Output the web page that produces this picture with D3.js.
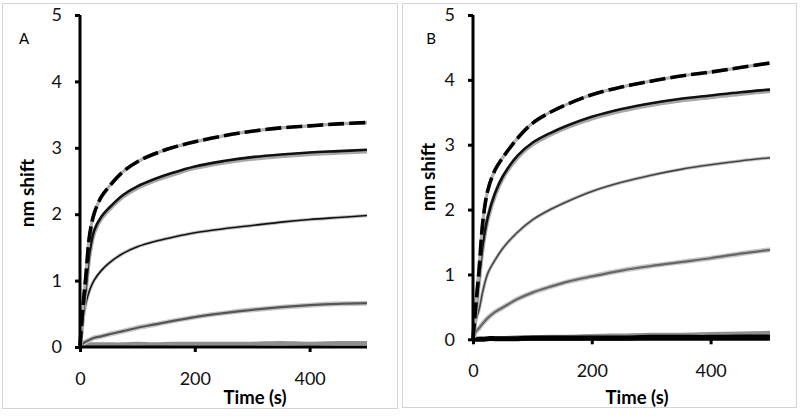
<!DOCTYPE html>
<html><head><meta charset="utf-8">
<script src="https://cdn.jsdelivr.net/npm/d3@7"></script>
<style>
html,body{margin:0;padding:0;background:#fff;}
svg{display:block;font-family:Lato,"Open Sans",sans-serif;}
</style></head>
<body><svg id="c" width="800" height="419"></svg>
<script>
// ---- data ----
const timeS = [0, 5, 10, 17, 25, 37, 50, 75, 100, 130, 160, 200, 250, 300, 350, 400, 450, 500];
const xTicks = [0, 200, 400];
const yTicks = [0, 1, 2, 3, 4, 5];

const aDashed = [0, 0.60, 1.05, 1.70, 2.02, 2.26, 2.41, 2.64, 2.79, 2.91, 3.00, 3.09, 3.18, 3.25, 3.30, 3.33, 3.36, 3.38];
const aSolid  = [0, 0.50, 0.90, 1.45, 1.76, 1.96, 2.09, 2.29, 2.42, 2.53, 2.62, 2.72, 2.80, 2.86, 2.90, 2.93, 2.95, 2.97];
const aThin   = [0, 0.40, 0.65, 0.86, 1.01, 1.15, 1.26, 1.41, 1.51, 1.59, 1.65, 1.72, 1.78, 1.83, 1.88, 1.92, 1.95, 1.98];
const aGray   = [0, 0.05, 0.08, 0.11, 0.14, 0.16, 0.19, 0.24, 0.29, 0.34, 0.39, 0.45, 0.51, 0.56, 0.60, 0.63, 0.65, 0.66];
const aLight  = [0, 0.04, 0.04, 0.04, 0.04, 0.04, 0.04, 0.04, 0.05, 0.04, 0.05, 0.05, 0.05, 0.05, 0.06, 0.05, 0.06, 0.06];
const aBlack  = [0, 0, 0, 0, 0, 0, 0, 0, 0, 0, 0, 0, 0, 0, 0, 0, 0, 0];

const bDashed = [0, 0.55, 1.05, 1.85, 2.30, 2.61, 2.80, 3.10, 3.33, 3.50, 3.63, 3.77, 3.89, 3.98, 4.06, 4.12, 4.19, 4.26];
const bSolid  = [0, 0.50, 0.95, 1.50, 1.89, 2.25, 2.51, 2.83, 3.03, 3.18, 3.30, 3.43, 3.55, 3.64, 3.71, 3.76, 3.81, 3.85];
const bThin   = [0, 0.30, 0.45, 0.76, 1.02, 1.22, 1.40, 1.65, 1.84, 2.00, 2.13, 2.28, 2.42, 2.53, 2.62, 2.69, 2.75, 2.80];
const bGray   = [0, 0.12, 0.17, 0.25, 0.33, 0.42, 0.49, 0.62, 0.72, 0.81, 0.89, 0.97, 1.06, 1.13, 1.19, 1.25, 1.32, 1.38];
const bLight  = [0, 0.00, 0.01, 0.01, 0.01, 0.02, 0.02, 0.03, 0.03, 0.04, 0.04, 0.05, 0.06, 0.07, 0.07, 0.08, 0.09, 0.10];
const bBlack  = [0, 0, 0, 0, 0.01, 0.01, 0.01, 0.01, 0.02, 0.02, 0.02, 0.02, 0.02, 0.03, 0.03, 0.03, 0.035, 0.035];

const svg = d3.select("#c");

function panel(cfg) {
  const g = svg.append("g");
  g.append("rect").attr("x", cfg.box[0]).attr("y", cfg.box[1])
    .attr("width", cfg.box[2]).attr("height", cfg.box[3])
    .attr("fill", "none").attr("stroke", "#d4d4d4").attr("stroke-width", 1);

  const x = d3.scaleLinear().domain([0, 500]).range(cfg.xr);
  const y = d3.scaleLinear().domain([0, 5]).range(cfg.yr);
  const line = d3.line().x((d, i) => x(timeS[i])).y(d => y(d)).curve(d3.curveCatmullRom.alpha(0.5));
  const path = (data, col, w, extra) => {
    const p = g.append("path").attr("d", line(data)).attr("fill", "none")
      .attr("stroke", col).attr("stroke-width", w).attr("stroke-linejoin", "round");
    if (extra) extra(p);
    return p;
  };

  const s = cfg.series;
  // light gray baseline
  path(s.light, "#8f8f8f", 4);
  // black baseline
  path(s.black, "#000", cfg.blackW);
  // gray curve
  path(s.gray, "#c8c8c8", 5);
  path(s.gray, cfg.grayCol, 2.2);
  // thin curve
  path(s.thin, "#c4c4c4", 3.5);
  path(s.thin, cfg.thinCol, 1.6);
  // solid thick curve with shadow
  path(s.solid, "#a8a8a8", 4.5, p => p.attr("transform", "translate(0,1.5)"));
  path(s.solid, "#111", 2.6);
  // dashed curve
  path(s.dashed, "#b0b0b0", 3.2);
  path(s.dashed, "#000", 3.6, p => p.attr("stroke-dasharray", "16,5"));

  // axes
  const yAxis = g.append("g").attr("transform", `translate(${cfg.xr[0]},0)`)
    .call(d3.axisLeft(y).tickValues(yTicks).tickSize(5).tickPadding(13).tickFormat(d3.format("d")));
  const xAxis = g.append("g").attr("transform", `translate(0,${cfg.yr[0]})`)
    .call(d3.axisBottom(x).tickValues(xTicks).tickSize(5).tickPadding(20).tickFormat(d3.format("d")));
  [yAxis, xAxis].forEach(a => {
    a.select(".domain").attr("stroke", "#000").attr("stroke-width", 3);
    a.selectAll(".tick line").attr("stroke", "#000").attr("stroke-width", 3);
    a.selectAll(".tick text").attr("font-size", 18).attr("fill", "#111").attr("font-family", "Lato, 'Open Sans', sans-serif");
  });
  xAxis.select(".domain").attr("d", `M${cfg.xr[0]},0H${cfg.xr[1]}`);
  yAxis.select(".domain").attr("d", `M0,${cfg.yr[0]}V${cfg.yr[1]}`);

  // labels
  g.append("text").attr("x", cfg.letter[0]).attr("y", cfg.letter[1]).attr("text-anchor", "middle")
    .attr("dy", "0.35em").attr("font-size", 15).text(cfg.letterText);
  g.append("text").attr("x", cfg.xlab[0]).attr("y", cfg.xlab[1]).attr("text-anchor", "middle")
    .attr("dy", "0.35em").attr("font-size", 18.5).attr("font-weight", "bold").text("Time (s)");
  g.append("text").attr("transform", `translate(${cfg.ylab[0]},${cfg.ylab[1]}) rotate(-90)`)
    .attr("text-anchor", "middle").attr("dy", "0.35em").attr("font-size", 19).attr("font-weight", "bold").text("nm shift");
}

panel({
  box: [2.5, 3.5, 395, 405], xr: [80, 367], yr: [347, 15],
  series: {dashed: aDashed, solid: aSolid, thin: aThin, gray: aGray, light: aLight, black: aBlack},
  grayCol: "#555", thinCol: "#111", blackW: 2,
  letter: [24, 39], letterText: "A", xlab: [255, 398], ylab: [27, 193]
});
panel({
  box: [402.5, 3.5, 394, 404], xr: [473, 770], yr: [339.3, 15],
  series: {dashed: bDashed, solid: bSolid, thin: bThin, gray: bGray, light: bLight, black: bBlack},
  grayCol: "#666", thinCol: "#444", blackW: 5,
  letter: [431, 39], letterText: "B", xlab: [637, 398], ylab: [428, 177]
});
</script>
</body></html>
